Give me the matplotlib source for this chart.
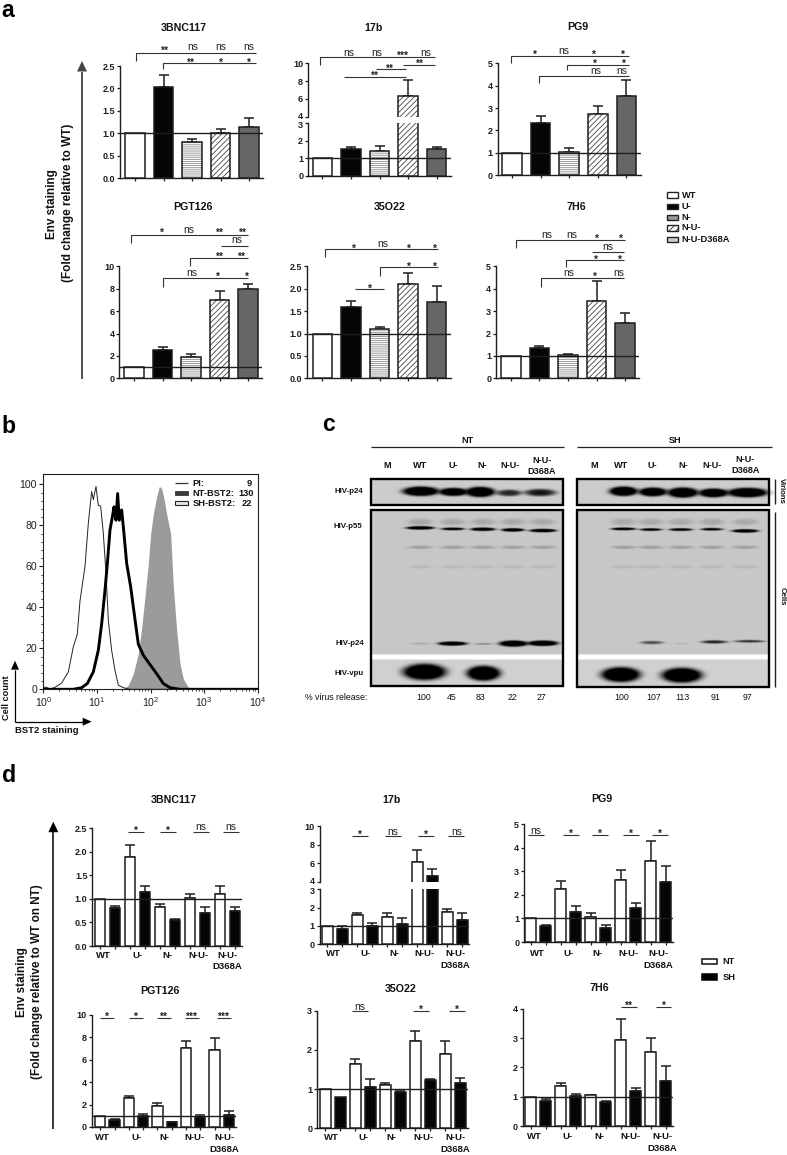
import numpy as np
import matplotlib
matplotlib.use("Agg")
import matplotlib.pyplot as plt
from matplotlib.patches import Rectangle, Polygon
from matplotlib.transforms import ScaledTranslation

plt.rcParams['font.family'] = ['Liberation Sans', 'DejaVu Sans']
plt.rcParams['mathtext.default'] = 'regular'
plt.rcParams['hatch.linewidth'] = 0.6

W, H = 787, 1155
INK = '#1e1e1e'

# ---------- panel a data ----------
a_names = ['3BNC117', '17b', 'PG9', 'PGT126', '35O22', '7H6']
a_3bnc = [1, 2.03, 0.81, 1.0, 1.14]
a_3bnc_top = [None, 2.3, 0.87, 1.1, 1.35]
a_17b = [1, 1.5, 1.4, 6.27, 1.5]
a_17b_top = [None, 1.65, 1.7, 8.08, 1.65]
a_pg9 = [1, 2.35, 1.05, 2.75, 3.55]
a_pg9_top = [None, 2.65, 1.22, 3.1, 4.25]
a_pgt = [1, 2.5, 1.9, 7.0, 7.95]
a_pgt_top = [None, 2.8, 2.15, 7.8, 8.4]
a_35 = [1, 1.6, 1.1, 2.1, 1.7]
a_35_top = [None, 1.72, 1.15, 2.35, 2.05]
a_7h6 = [1, 1.35, 1.05, 3.45, 2.47]
a_7h6_top = [None, 1.45, 1.1, 4.33, 2.93]
a_groups = ['WT', 'U-', 'N-', 'N-U-', 'N-U-D368A']

# ---------- panel b data (log10 intensity, % of max) ----------
pi_log = [0, .062, .124, .218, .342, .467, .56, .635, .684, .778, .84, .902, .933, .983, 1.026, 1.07,
          1.12, 1.17, 1.213, 1.275, 1.337, 1.4, 1.493, 1.617, 4]
pi_cnt = [1, 1, 0, 1, 3, 8.5, 20.7, 27, 43, 60, 81, 96.5, 92.5, 99, 89.7, 89.4,
          76, 56.5, 33.7, 19, 9.3, 2, .8, 0, 0]
sh_log = [0, .56, .715, .821, .933, 1.026, 1.089, 1.151, 1.194, 1.244, 1.294, 1.319, 1.356, 1.387, 1.418,
          1.462, 1.505, 1.555, 1.63, 1.711, 1.773, 1.866, 2.02, 2.115, 2.24, 2.364, 2.55, 4]
sh_cnt = [0, 0, .8, 2.8, 8.5, 19, 32, 48.4, 61, 77.7, 85, 89, 82.5, 95.5, 82.5,
          87.5, 76, 61.5, 50, 34, 22, 16.6, 11, 7.6, 2.8, .8, 0, 0]
nt_log = [1.493, 1.586, 1.68, 1.773, 1.835, 1.897, 1.96, 2.003, 2.053, 2.115, 2.165, 2.208, 2.252, 2.302,
          2.376, 2.426, 2.488, 2.55, 2.613, 2.706, 2.862]
nt_cnt = [0, 2, 7.6, 17.4, 30, 45, 61.5, 76, 85.5, 94, 99, 98, 93, 85.5, 76, 50, 29, 12.5, 5, 1, 0]

# ---------- panel c data ----------
lanes = ['M', 'WT', 'U-', 'N-', 'N-U-', 'N-U-\nD368A']
release_nt = ['100', '45', '83', '22', '27']
release_sh = ['100', '107', '113', '91', '97']
# bands: lane x, y, half width, half height, darkness (zoom-crop units)
b_vir = [(332, 273, 54, 14, 1), (430, 275, 43, 12, .95), (510, 275, 44, 15, 1), (597, 278, 38, 10, .55),
         (690, 277, 48, 11, .6), (940, 273, 42, 14, 1), (1028, 275, 42, 13, .97), (1118, 277, 46, 15, 1),
         (1210, 278, 44, 13, .97), (1312, 277, 60, 14, 1)]
b_p55 = [(330, 383, 42, 5, 1), (428, 386, 35, 4, .9), (518, 387, 37, 5, 1), (608, 389, 34, 5, 1),
         (698, 391, 40, 5, 1), (940, 386, 37, 4, .95), (1022, 388, 34, 4, .8), (1112, 388, 35, 4, .9),
         (1205, 387, 34, 4, .75), (1305, 392, 40, 5, .97)]
b_p24 = [(330, 730, 30, 3, .1), (427, 730, 43, 6, 1), (520, 731, 30, 3, .2), (610, 730, 43, 9, 1),
         (698, 729, 45, 8, 1), (1025, 727, 35, 5, .4), (1112, 730, 25, 2, .08), (1212, 725, 40, 5, .55),
         (1318, 723, 47, 4, .5)]
b_vpu = [(343, 815, 64, 24, 1), (520, 819, 50, 22, 1), (932, 823, 58, 22, 1), (1115, 825, 60, 22, 1)]
b_faint = [(x, y, 38, h, d) for x in (330, 428, 518, 608, 698, 940, 1022, 1112, 1205, 1305)
           for y, h, d in ((365, 10, .10), (441, 5, .14), (500, 5, .05))]

# ---------- panel d data: NT, SH alternating per group ----------
d_3bnc = [1, .8, 1.9, 1.15, .82, .55, 1.02, .7, 1.1, .75]
d_3bnc_top = [None, .85, 2.15, 1.27, .9, .58, 1.1, .83, 1.27, .83]
d_17b = [1, .85, 1.6, 1.0, 1.5, 1.1, 6.1, 4.65, 1.74, 1.3]
d_17b_top = [None, .97, 1.7, 1.15, 1.7, 1.44, 7.47, 5.37, 1.9, 1.72]
d_pg9 = [1, .67, 2.23, 1.27, 1.07, .6, 2.63, 1.42, 3.45, 2.55]
d_pg9_top = [None, .7, 2.58, 1.52, 1.25, .73, 3.05, 1.67, 4.27, 3.22]
d_pgt = [1, .65, 2.55, .95, 1.85, .42, 7.05, .85, 6.9, 1.05]
d_pgt_top = [None, .75, 2.8, 1.15, 2.15, .47, 7.65, 1.08, 7.95, 1.42]
d_35 = [1, .8, 1.65, 1.05, 1.1, .93, 2.23, 1.22, 1.9, 1.15]
d_35_top = [None, None, 1.78, 1.25, 1.15, .96, 2.47, 1.26, 2.23, 1.28]
d_7h6 = [1, .85, 1.37, 1.03, 1.05, .82, 2.92, 1.2, 2.53, 1.53]
d_7h6_top = [None, .92, 1.45, 1.08, 1.07, .84, 3.65, 1.28, 3.0, 2.05]

fig = plt.figure(figsize=(W / 100, H / 100), dpi=100, facecolor='white')
ov = fig.add_axes([0, 0, 1, 1], zorder=10)
ov.patch.set_alpha(0)
ov.axis('off')


def axpx(l, t, r, b):
    ax = fig.add_axes([l / W, 1 - b / H, (r - l) / W, (b - t) / H], zorder=2)
    ax.patch.set_alpha(0)
    return ax


def style(ax):
    for s in ('top', 'right'):
        ax.spines[s].set_visible(False)
    for s in ('left', 'bottom'):
        ax.spines[s].set_linewidth(1.0)
        ax.spines[s].set_color(INK)
    ax.tick_params(length=2.5, width=0.9, pad=1, labelsize=6.5, colors=INK)
    for t in ax.get_yticklabels():
        t.set_fontweight('bold')


A_STY = [dict(fc='white'), dict(fc='#050505'), dict(fc='white', hatch='--------', hc='#8a8a8a'),
         dict(fc='white', hatch='//////', hc='#444444'), dict(fc='#666666')]
D_STY = [dict(fc='white'), dict(fc='#050505')]


def draw_bars(ax, vals, tops, stys, bw):
    for i, (v, top) in enumerate(zip(vals, tops)):
        s = stys[i % len(stys)]
        if top is not None:
            ax.errorbar([i], [v], yerr=[[0], [top - v]], fmt='none', ecolor=INK, elinewidth=1.1,
                        capsize=3.3, capthick=1.1, zorder=2)
        if 'hatch' in s:
            ax.bar(i, v, bw, color='white', edgecolor=s['hc'], hatch=s['hatch'], lw=0, zorder=3)
            ax.bar(i, v, bw, fill=False, edgecolor=INK, lw=1.1, zorder=3.5)
        else:
            ax.bar(i, v, bw, color=s['fc'], edgecolor=INK, lw=1.1, zorder=3)


def nudge(label, dy_px):
    label.set_transform(label.get_transform() + ScaledTranslation(0, dy_px / 100, fig.dpi_scale_trans))


def panel(l, t, r, b, c0, step, bwpx, vals, tops, stys, ymax, yt, ylab, upper=None):
    """upper: (top_px, y4_px, y3_px, yticks) for a broken axis"""
    n = len(vals)
    xl = ((l - c0) / step, (r - c0) / step)
    if upper is None:
        axs = [axpx(l, t, r, b)]
        lims = [(0, ymax)]
        tk = [(yt, ylab)]
    else:
        y3 = upper[2]
        axs = [axpx(l, y3, r, b), axpx(l, t, r, upper[1])]
        lims = [(0, 3), (4, 10)]
        tk = [([0, 1, 2, 3], ['0', '1', '2', '3']), ([4, 6, 8, 10], ['4', '6', '8', '10'])]
    for k, ax in enumerate(axs):
        draw_bars(ax, vals, tops, stys, bwpx / step)
        ax.set_xlim(*xl)
        ax.set_ylim(*lims[k])
        ax.set_yticks(tk[k][0])
        ax.set_yticklabels(tk[k][1])
        style(ax)
        if upper is not None:
            nudge(ax.get_yticklabels()[-1 if k == 0 else 0], -1.5 if k == 0 else 1.5)
        if k == 0:
            ax.axhline(1, color=INK, lw=1.0, zorder=5)
            ax.set_xticks(range(n))
            ax.set_xticklabels([])
        else:
            ax.spines['bottom'].set_visible(False)
            ax.set_xticks([])


panel(120, 66, 263, 178, 135, 28.5, 19.5, a_3bnc, a_3bnc_top, A_STY, 2.5,
      [0, .5, 1, 1.5, 2, 2.5], ['0.0', '0.5', '1.0', '1.5', '2.0', '2.5'])
panel(308, 63.3, 450.7, 175.7, 322.3, 28.6, 19.5, a_17b, a_17b_top, A_STY, 10, None, None,
      upper=(63.3, 116.7, 123.3))
panel(497.7, 63.3, 640.7, 175.3, 512, 28.6, 19.5, a_pg9, a_pg9_top, A_STY, 5,
      range(6), list('012345'))
panel(119.3, 266.3, 262.3, 378.3, 134, 28.5, 19.5, a_pgt, a_pgt_top, A_STY, 10,
      [0, 2, 4, 6, 8, 10], ['0', '2', '4', '6', '8', '10'])
panel(307, 266.3, 450.7, 378.3, 322.3, 28.6, 19.5, a_35, a_35_top, A_STY, 2.5,
      [0, .5, 1, 1.5, 2, 2.5], ['0.0', '0.5', '1.0', '1.5', '2.0', '2.5'])
panel(496, 266.3, 639.3, 378.3, 510.8, 28.6, 19.5, a_7h6, a_7h6_top, A_STY, 5,
      range(6), list('012345'))

panel(92.3, 828.3, 242.3, 946, 100, 15, 10.7, d_3bnc, d_3bnc_top, D_STY, 2.5,
      [0, .5, 1, 1.5, 2, 2.5], ['0.0', '0.5', '1.0', '1.5', '2.0', '2.5'])
panel(319.7, 826.3, 469.3, 944, 327.3, 15, 10.7, d_17b, d_17b_top, D_STY, 10, None, None,
      upper=(826.3, 881.7, 889.3))
panel(524, 824, 673.3, 942, 530.8, 15, 10.7, d_pg9, d_pg9_top, D_STY, 5, range(6), list('012345'))
panel(91.7, 1015, 235.7, 1127, 100.2, 14.3, 10.3, d_pgt, d_pgt_top, D_STY, 10,
      [0, 2, 4, 6, 8, 10], ['0', '2', '4', '6', '8', '10'])
panel(317, 1010.7, 467.7, 1128.3, 325.3, 15, 10.7, d_35, d_35_top, D_STY, 3, range(4), list('0123'))
panel(522.7, 1008.7, 673, 1126, 530.5, 15, 10.7, d_7h6, d_7h6_top, D_STY, 4, range(5), list('01234'))

# ---------- panel b ----------
axb = axpx(43.3, 474.3, 257.7, 689.3)
axb.set_xscale('log')
axb.fill_between(10 ** np.array(nt_log), nt_cnt, color='#9b9b9b', lw=0, zorder=1)
axb.plot(10 ** np.array(pi_log), pi_cnt, color='#222222', lw=0.7, zorder=2)
axb.plot(10 ** np.array(sh_log), sh_cnt, color='black', lw=2.1, zorder=3)
axb.set_xlim(1, 1e4)
axb.set_ylim(0, 104.9)
axb.set_yticks(range(0, 101, 20))
axb.set_yticks(range(0, 101, 4), minor=True)
axb.tick_params(which='major', length=3, width=0.8, pad=1.5, labelsize=7.6, colors='#222222')
axb.tick_params(which='minor', length=1.6, width=0.6, colors='#222222')
for s in axb.spines.values():
    s.set_linewidth(0.8)
    s.set_color('#222222')


# ---------- overlay helpers ----------
def T(x, y, s, size=6.7, weight='bold', ha='center', va='center', **kw):
    ov.text(x, y, s, fontsize=size, fontweight=weight, ha=ha, va=va, color=kw.pop('color', '#111111'), **kw)


def L(xs, ys, lw=0.8, color='#333333'):
    ov.plot(xs, ys, color=color, lw=lw, solid_capstyle='butt', solid_joinstyle='miter')


def sig(x, y, s):
    if s == 'ns':
        ov.text(x, y + 2.8, s, fontsize=7.4, ha='center', va='baseline', color='#222222')
    else:
        ov.text(x, y + 5.8, s, fontsize=7.3, fontweight='bold', ha='center', va='baseline', color='#222222')


def bracket(x0, x1, y, drop=None):
    if drop is None:
        L([x0, x1], [y, y])
    else:
        L([x0, x0, x1], [drop, y, y])


def labels(items):
    for x, y, s in items:
        sig(x, y, s)


def arrow(x0, y0, x1, y1, hl, hw, lw=1.1, color='#333333'):
    if x0 == x1:
        s = np.sign(y0 - y1)
        L([x0, x1], [y0, y1 + s * hl], lw=lw, color=color)
        pts = [(x1, y1), (x1 - hw, y1 + s * hl), (x1 + hw, y1 + s * hl)]
    else:
        s = np.sign(x0 - x1)
        L([x0, x1 + s * hl], [y0, y1], lw=lw, color=color)
        pts = [(x1, y1), (x1 + s * hl, y1 - hw), (x1 + s * hl, y1 + hw)]
    ov.add_patch(Polygon(pts, closed=True, fc=color, ec='none'))


# panel letters
T(1, 17, 'a', size=16.6, ha='left', va='baseline', color='black')
T(1, 433, 'b', size=16.6, ha='left', va='baseline', color='black')
T(322, 431, 'c', size=16.6, ha='left', va='baseline', color='black')
T(2, 782, 'd', size=16.6, ha='left', va='baseline', color='black')

# titles, panel a
for x, y, s in [(183.7, 27.7, a_names[0]), (373.7, 27.7, a_names[1]), (577.7, 27, a_names[2]),
                (193.3, 206.7, a_names[3]), (389.3, 207, a_names[4]), (576.7, 207, a_names[5])]:
    T(x, y, s, size=7.7)
# titles, panel d
for x, y, s in [(174.3, 800, a_names[0]), (392, 800, a_names[1]), (602, 799, a_names[2]),
                (160, 990.7, a_names[3]), (400.5, 989, a_names[4]), (599, 988, a_names[5])]:
    T(x, y, s, size=7.7)

# y labels + arrows
T(52, 204, 'Env staining', size=8.5, rotation=90)
T(68, 203, '(Fold change relative to WT)', size=8.5, rotation=90)
arrow(82, 378.7, 82, 61, 10.5, 5, lw=1.3, color='#444444')
T(21.7, 982, 'Env staining', size=8.5, rotation=90)
T(37.3, 982, '(Fold change relative to WT on NT)', size=8.5, rotation=90)
arrow(53.3, 1129, 53.3, 821.7, 10.5, 5, lw=1.1, color='black')

# ---- panel a significance
bracket(135.7, 256, 52.7, 61)
labels([(164.7, 47.7, '**'), (192.7, 47.7, 'ns'), (220.7, 47.7, 'ns'), (248.3, 47.7, 'ns')])
bracket(163.3, 256, 63, 69.3)
labels([(191.3, 59.7, '**'), (220.7, 59.7, '*'), (249.3, 59.7, '*')])

bracket(319.7, 435, 57.3, 65)
labels([(349, 53.3, 'ns'), (376.7, 53.3, 'ns'), (402.5, 53.3, '***'), (425.3, 53.3, 'ns')])
bracket(376, 405.7, 69.3)
sig(390, 66, '**')
bracket(344, 405.7, 76.7)
sig(375, 73.3, '**')
bracket(403.3, 435, 64.7)
sig(420, 61.3, '**')

bracket(510.7, 629, 56, 63.3)
labels([(534.7, 52, '*'), (563.3, 51.3, 'ns'), (594.3, 52, '*'), (623.3, 52, '*')])
bracket(567, 629, 65, 70)
labels([(595, 60.7, '*'), (624, 60.7, '*')])
bracket(538.7, 629, 76, 83.3)
labels([(595.7, 71, 'ns'), (621.7, 71, 'ns')])

bracket(131, 248.3, 235.3, 243.3)
labels([(162, 230, '*'), (188.3, 230, 'ns'), (220, 230, '**'), (242.7, 230, '**')])
bracket(220.7, 248.3, 245.7)
sig(236.7, 240.3, 'ns')
bracket(190.3, 248.3, 257.7, 266)
labels([(220, 254.3, '**'), (242.3, 254.3, '**')])
bracket(162.7, 248.3, 278.3, 286.7)
labels([(191.7, 272.7, 'ns'), (218.3, 274.3, '*'), (247, 274, '*')])

bracket(325.3, 438, 249, 256.7)
labels([(354.3, 245.7, '*'), (383, 244.3, 'ns'), (409.3, 245.7, '*'), (435, 245.7, '*')])
bracket(380.3, 438, 267.3, 275.7)
labels([(409.3, 264, '*'), (435, 264, '*')])
bracket(355, 384.3, 289)
sig(369.7, 285.7, '*')

bracket(515.7, 625, 240, 247.7)
labels([(546.3, 235.7, 'ns'), (571.7, 235.7, 'ns'), (597, 236.5, '*'), (621.3, 236.5, '*')])
bracket(592.3, 624, 252)
sig(607.7, 247, 'ns')
bracket(566.3, 624, 260, 267.3)
labels([(595.7, 256.7, '*'), (620, 256.7, '*')])
bracket(541, 624, 278.3, 286.7)
labels([(568.3, 273.3, 'ns'), (595, 274, '*'), (619, 273, 'ns')])

# ---- panel a legend
leg_y = [195, 206.7, 217.3, 228, 239.3]
for y, name, s in zip(leg_y, a_groups, [dict(fc='white'), dict(fc='black'), dict(fc='#9a9a9a'),
                                        dict(fc='white', hatch='/////'), dict(fc='#cfcfcf')]):
    ov.add_patch(Rectangle((667, y - 2.8), 10.7, 5.6, ec='#222222', lw=1.0, **s))
    T(681.7, y, name, ha='left')

# ---- panel b annotations
L([174.5, 188], [483.3, 483.3], lw=0.9, color='#333333')
ov.add_patch(Rectangle((174.5, 491.3), 13.5, 4, fc='#3a3a3a', ec='#3a3a3a', lw=0.6))
ov.add_patch(Rectangle((174.5, 501), 13.5, 4, fc='#e6e6e6', ec='#222222', lw=0.8))
T(192.7, 483, 'PI:', ha='left')
T(251.7, 483, '9', ha='right')
T(192.7, 493.3, 'NT-BST2:', ha='left')
T(253.5, 493.3, '130', ha='right')
T(192.7, 503.3, 'SH-BST2:', ha='left')
T(251.7, 503.3, '22', ha='right')
arrow(15, 721.7, 15, 660.7, 9, 4, lw=0.9, color='black')
arrow(15, 721.7, 91.7, 721.7, 9, 4, lw=0.9, color='black')
T(6.3, 697.7, 'Cell count', size=6.6, rotation=90)
T(15, 730.7, 'BST2 staining', size=6.8, ha='left')

# ---- panel c: blot image
cx0, cy0, cx1, cy1 = 365, 475, 775, 690
SC = 2
yy, xx = np.mgrid[cy0:cy1:1 / SC, cx0:cx1:1 / SC]
img = np.ones(xx.shape)
boxes = [(371, 479, 563.3, 505.3, .80), (577.3, 479, 769.3, 505, .80),
         (371, 510.3, 563.3, 686.3, .78), (577.3, 510.3, 769.3, 686.7, .78)]
for x0, y0, x1, y1, g in boxes:
    img[(xx >= x0) & (xx <= x1) & (yy >= y0) & (yy <= y1)] = g
img[(yy >= 659) & (yy <= 686.5) & (xx > 371) & (xx < 769.3) & (img < 1)] = .82
for group in (b_vir, b_p55, b_p24, b_vpu, b_faint):
    for zx, zy, hw, hh, dk in group:
        dx = (xx - (310 + zx / 3)) / (hw / 3)
        dy = (yy - (400 + zy / 3)) / (hh / 3)
        r2 = dx ** 2 + dy ** 2
        img *= 1 - np.clip(1.5 * dk * np.exp(-r2 ** 2), 0, 1)
img[(yy >= 654.3) & (yy <= 659.3)] = 1
ov.imshow(img, cmap='gray', vmin=0, vmax=1, extent=(cx0, cx1, cy1, cy0), aspect='auto',
          interpolation='bilinear', zorder=0)
for x0, y0, x1, y1, g in boxes:
    ov.add_patch(Rectangle((x0, y0), x1 - x0, y1 - y0, fill=False, ec='black', lw=1.7, zorder=2))
T(467.7, 440.3, 'NT', size=6.6)
T(674.7, 440.3, 'SH', size=6.6)
L([371, 564], [447.3, 447.3], lw=0.9, color='#222222')
L([576.7, 772], [447.3, 447.3], lw=0.9, color='#222222')
for xz, s in zip([232, 330, 431, 516, 601, 695], lanes):
    T(310 + xz / 3, 400 + 198 / 3, s, size=6.6, linespacing=1.25)
for xz, s in zip([852, 933, 1027, 1120, 1205, 1306], lanes):
    T(310 + xz / 3, 400 + (194 if '\n' in s else 198) / 3, s, size=6.6, linespacing=1.25)
for xz, yz, s in [(115, 275, 'HIV-p24'), (115, 381, 'HIV-p55'), (118, 731, 'HIV-p24'), (118, 820, 'HIV-vpu')]:
    T(310 + xz / 3, 400 + yz / 3, s, size=5.7)
L([775, 775], [479, 504], lw=1.0, color='#222222')
L([775, 775], [512, 687], lw=1.0, color='#222222')
T(781.7, 490.7, 'Virions', size=5.6, rotation=-90)
T(782, 596, 'Cells', size=5.6, rotation=-90)
T(367.3, 697.7, '% virus release:', size=6.3, weight='normal', ha='right')
for xz, s in zip([340, 425, 513, 608, 695], release_nt):
    T(310 + xz / 3, 697.7, s, size=6.3, weight='normal')
for xz, s in zip([934, 1030, 1116, 1217, 1312], release_sh):
    T(310 + xz / 3, 697.7, s, size=6.3, weight='normal')

# ---- panel d significance
for lines, ly, tags in [
    ([(128.3, 144.3), (160.3, 176.3), (192.7, 208.7), (223, 239)], 831.7, ['*', '*', 'ns', 'ns']),
    ([(352.3, 368), (385.3, 401), (417.7, 433.7), (448.3, 464.3)], 836, ['*', 'ns', '*', 'ns']),
    ([(527.7, 543.7), (563.3, 579), (592.3, 608), (622.7, 638.7), (652.3, 668)], 835.3, ['ns', '*', '*', '*', '*']),
    ([(100, 114.3), (129, 143), (157, 171.3), (184.7, 199), (216.7, 231)], 1018, ['*', '*', '**', '***', '***']),
    ([(352, 367.7), (413.3, 429), (449.3, 465)], 1011, ['ns', '*', '*']),
    ([(621.3, 637), (656, 671.3)], 1007, ['**', '*']),
]:
    for (x0, x1), tag in zip(lines, tags):
        bracket(x0, x1, ly)
        sig((x0 + x1) / 2, ly - 4, tag)

# ---- panel d x labels
d_xl = ['WT', 'U-', 'N-', 'N-U-', 'N-U-']
for xs, y1, y2 in [((103, 137, 167, 198, 227), 955, 966.7),
                   ((333, 365, 394, 424.3, 455.7), 954, 965.5),
                   ((537.7, 568.3, 597.7, 628.7, 658), 953.3, 965),
                   ((102.7, 136.3, 164.3, 194.7, 224.3), 1137.7, 1149.3),
                   ((331.7, 363.7, 391.7, 423.7, 455), 1137.7, 1149.3),
                   ((534, 567.7, 599, 630.7, 662), 1136.7, 1148.3)]:
    for x, s in zip(xs, d_xl):
        T(x, y1, s, size=6.8)
    T(xs[-1], y2, 'D368A', size=6.8)

# ---- panel d legend
ov.add_patch(Rectangle((702.3, 959), 15, 5.4, fc='white', ec='#111111', lw=1.1))
ov.add_patch(Rectangle((702.3, 974.3), 15, 5.4, fc='black', ec='black', lw=1.1))
T(722.7, 961.7, 'NT', ha='left')
T(722.7, 977, 'SH', ha='left')

ov.set_xlim(0, W)
ov.set_ylim(H, 0)
fig.savefig('out.png', dpi=100, facecolor='white')
